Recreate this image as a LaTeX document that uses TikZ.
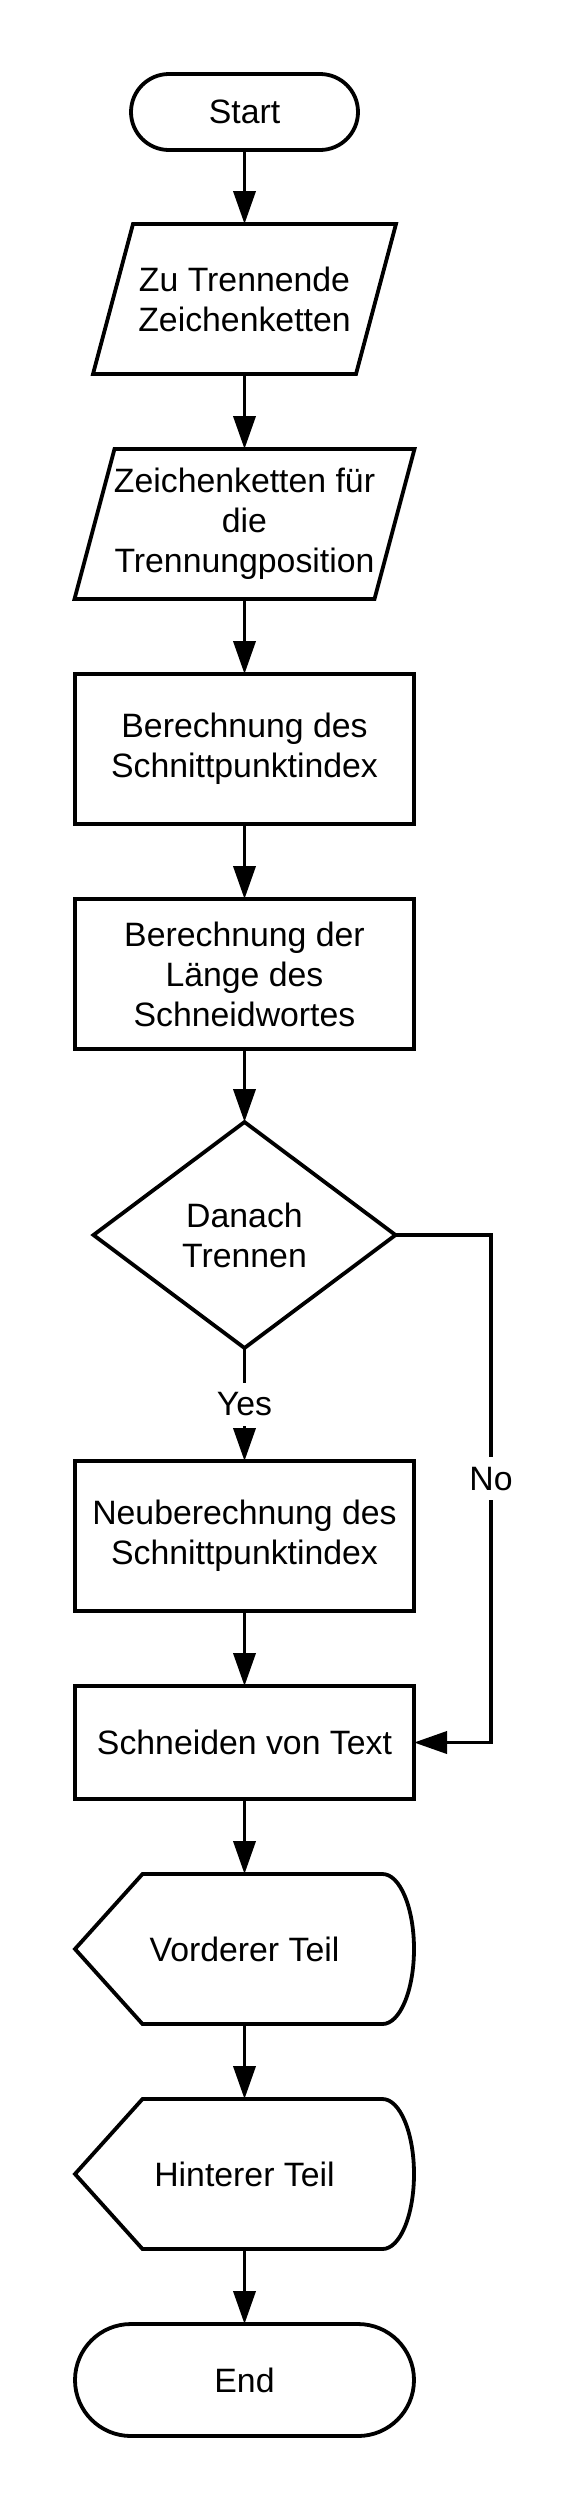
\documentclass[tikz,border=0pt]{standalone}
\usepackage{fontspec}
\setmainfont{Liberation Sans}
\usetikzlibrary{shapes.geometric, arrows.meta, positioning, calc}

\begin{document}
\begin{tikzpicture}[>={Triangle[length=16.5pt, width=11pt]}, line width=1.9pt,
  font=\fontsize{16.9pt}{20pt}\selectfont, node distance=37.5pt,
  every node/.style={outer sep=0pt},
  terminal/.style={draw, rectangle, rounded corners=#1, align=center},
  process/.style={draw, rectangle, minimum width=169.5pt, minimum height=75pt, align=center, inner sep=0pt},
  io/.style={rectangle, minimum height=75pt, align=center, inner sep=0pt},
  decision/.style={draw, diamond, minimum width=151pt, minimum height=113pt, align=center, inner sep=0pt},
  display/.style={rectangle, minimum width=169.5pt, minimum height=75pt, inner sep=0pt},
  lbl/.style={fill=white, inner sep=5pt}]

\useasboundingbox (0,0) rectangle (292.5pt,-1256.5pt);

% Main column
\node (start) [terminal=19pt, minimum width=113.5pt, minimum height=38pt] at (122.25pt,-56pt) {Start};
\node (in1) [io, minimum width=151.5pt, below=37pt of start] {Zu Trennende\\Zeichenketten};
\node (in2) [io, minimum width=170pt, below=of in1] {Zeichenketten für\\die\\Trennungposition};
\node (calc1) [process, below=of in2] {Berechnung des\\Schnittpunktindex};
\node (calc2) [process, below=of calc1] {Berechnung der\\Länge des\\Schneidwortes};
\node (dec) [decision, below=36.5pt of calc2] {Danach\\Trennen};
\node (recalc) [process, below=56.5pt of dec] {Neuberechnung des\\Schnittpunktindex};
\node (cut) [process, minimum height=56.5pt, below=of recalc] {Schneiden von Text};
\node (front) [display, below=of cut] {Vorderer Teil};
\node (back) [display, below=of front] {Hinterer Teil};
\node (stop) [terminal=28pt, minimum width=169.5pt, minimum height=56pt, below=of back] {End};

% Input shapes
\draw ([xshift=20pt]in1.north west) -- (in1.north east) -- ([xshift=-20pt]in1.south east) -- (in1.south west) -- cycle;
\draw ([xshift=20pt]in2.north west) -- (in2.north east) -- ([xshift=-20pt]in2.south east) -- (in2.south west) -- cycle;

% Display shapes
\draw ([xshift=33.75pt]front.north west) -- ([xshift=-15.75pt]front.north east) arc[start angle=90, end angle=-90, x radius=15.75pt, y radius=37.5pt] -- ([xshift=33.75pt]front.south west) -- (front.west) -- cycle;
\draw ([xshift=33.75pt]back.north west) -- ([xshift=-15.75pt]back.north east) arc[start angle=90, end angle=-90, x radius=15.75pt, y radius=37.5pt] -- ([xshift=33.75pt]back.south west) -- (back.west) -- cycle;

% Arrows
\draw[->] (start) -- (in1);
\draw[->] (in1) -- (in2);
\draw[->] (in2) -- (calc1);
\draw[->] (calc1) -- (calc2);
\draw[->] (calc2) -- (dec);
\draw[->] (dec) -- (recalc) node[midway, lbl] {Yes};
\draw[->] (recalc) -- (cut);
\draw[->] (dec.east) -| ([xshift=38.5pt]cut.east) node[pos=0.74, lbl] {No} -- (cut.east);
\draw[->] (cut) -- (front);
\draw[->] (front) -- (back);
\draw[->] (back) -- (stop);
\end{tikzpicture}
\end{document}
